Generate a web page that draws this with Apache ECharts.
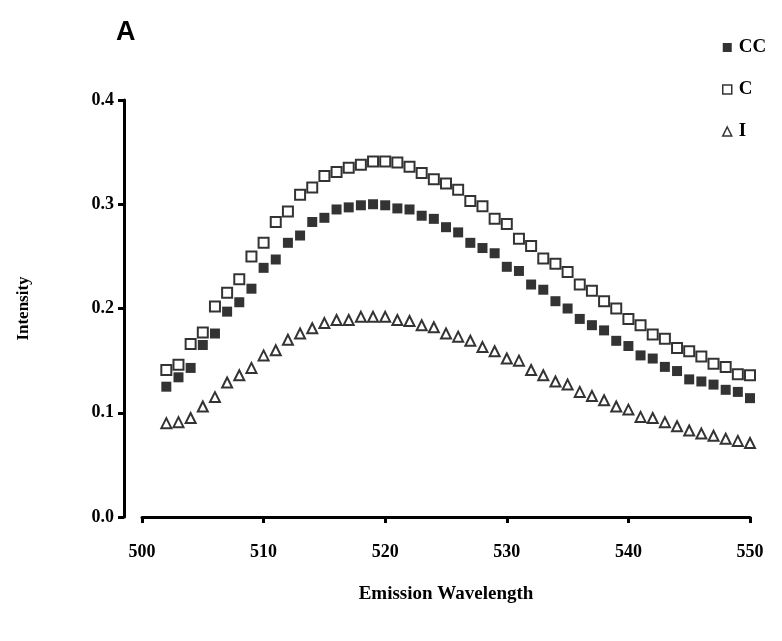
<!DOCTYPE html>
<html>
<head>
<meta charset="utf-8">
<script src="https://cdn.jsdelivr.net/npm/echarts@6/dist/echarts.min.js"></script>
<style>html,body{margin:0;padding:0;background:#fff;}#c{width:782px;height:641px;}</style>
</head>
<body>
<div id="c"></div>
<script>
const wavelengths = [502,503,504,505,506,507,508,509,510,511,512,513,514,515,516,517,518,519,520,521,522,523,524,525,526,527,528,529,530,531,532,533,534,535,536,537,538,539,540,541,542,543,544,545,546,547,548,549,550];
const seriesCC = [0.125,0.134,0.143,0.165,0.176,0.197,0.206,0.219,0.239,0.247,0.263,0.270,0.283,0.287,0.295,0.297,0.299,0.300,0.299,0.296,0.295,0.289,0.286,0.278,0.273,0.263,0.258,0.253,0.240,0.236,0.223,0.218,0.207,0.200,0.190,0.184,0.179,0.169,0.164,0.155,0.152,0.144,0.140,0.132,0.130,0.127,0.122,0.120,0.114];
const seriesC = [0.141,0.146,0.166,0.177,0.202,0.215,0.228,0.250,0.263,0.283,0.293,0.309,0.316,0.327,0.331,0.335,0.338,0.341,0.341,0.340,0.336,0.330,0.324,0.320,0.314,0.303,0.298,0.286,0.281,0.267,0.260,0.248,0.243,0.235,0.223,0.217,0.207,0.200,0.190,0.184,0.175,0.171,0.162,0.159,0.154,0.147,0.144,0.137,0.136];
const seriesI = [0.090,0.091,0.095,0.106,0.115,0.129,0.136,0.143,0.155,0.160,0.170,0.176,0.181,0.186,0.189,0.189,0.192,0.192,0.192,0.189,0.188,0.184,0.182,0.176,0.173,0.169,0.163,0.159,0.152,0.150,0.141,0.136,0.130,0.127,0.120,0.116,0.112,0.106,0.103,0.096,0.095,0.091,0.087,0.083,0.080,0.078,0.075,0.073,0.071];
const seriesNames = ['CC','C','I'];
const xTicks = {min:500, max:550, interval:10};
const yTicks = {min:0, max:0.4, interval:0.1};

const serif = 'Liberation Serif';
const pair = (arr) => wavelengths.map((w,i)=>[w, arr[i]]);

const chart = echarts.init(document.getElementById('c'), null, {renderer:'canvas'});
chart.setOption({
  backgroundColor:'#fff',
  animation:false,
  title:{text:'A', left:111, top:14, textStyle:{fontFamily:'Liberation Sans', fontWeight:'bold', fontSize:27, color:'#000'}},
  legend:{
    orient:'vertical', left:717, top:33, itemWidth:9, itemHeight:9, itemGap:23,
    textStyle:{fontFamily:serif, fontWeight:'bold', fontSize:19, color:'#000', padding:[0,0,0,2]},
    data:[
      {name:seriesNames[0], icon:'rect', itemStyle:{color:'#000', borderWidth:0}},
      {name:seriesNames[1], icon:'rect', itemStyle:{color:'#fff', borderColor:'#000', borderWidth:1.5}},
      {name:seriesNames[2], icon:'triangle', itemStyle:{color:'#fff', borderColor:'#000', borderWidth:1.5}}
    ]
  },
  grid:{left:142, right:32, top:100, bottom:124, containLabel:false},
  xAxis:{
    type:'value', min:xTicks.min, max:xTicks.max, interval:xTicks.interval, offset:20,
    name:'Emission Wavelength', nameLocation:'middle', nameGap:48,
    nameTextStyle:{fontFamily:serif, fontWeight:'bold', fontSize:19, color:'#000'},
    axisLine:{show:true, lineStyle:{color:'#000', width:3}},
    axisTick:{show:true, length:6, lineStyle:{color:'#000', width:3}},
    axisLabel:{fontFamily:serif, fontWeight:'bold', fontSize:18, color:'#000', margin:6},
    splitLine:{show:false}
  },
  yAxis:{
    type:'value', min:yTicks.min, max:yTicks.max, interval:yTicks.interval, offset:18,
    name:'Intensity', nameLocation:'middle', nameGap:92,
    nameTextStyle:{fontFamily:serif, fontWeight:'bold', fontSize:17, color:'#000'},
    axisLine:{show:true, lineStyle:{color:'#000', width:3}},
    axisTick:{show:true, length:6, lineStyle:{color:'#000', width:3}},
    axisLabel:{fontFamily:serif, fontWeight:'bold', fontSize:18, color:'#000', margin:10, formatter:(v)=>v.toFixed(1)},
    splitLine:{show:false}
  },
  series:[
    {name:seriesNames[0], type:'scatter', data:pair(seriesCC), symbol:'rect', symbolSize:10, itemStyle:{color:'#000'}},
    {name:seriesNames[1], type:'scatter', data:pair(seriesC), symbol:'rect', symbolSize:10, itemStyle:{color:'#fff', borderColor:'#000', borderWidth:2}},
    {name:seriesNames[2], type:'scatter', data:pair(seriesI), symbol:'triangle', symbolSize:10, itemStyle:{color:'#fff', borderColor:'#000', borderWidth:2}}
  ]
});
</script>
</body>
</html>
